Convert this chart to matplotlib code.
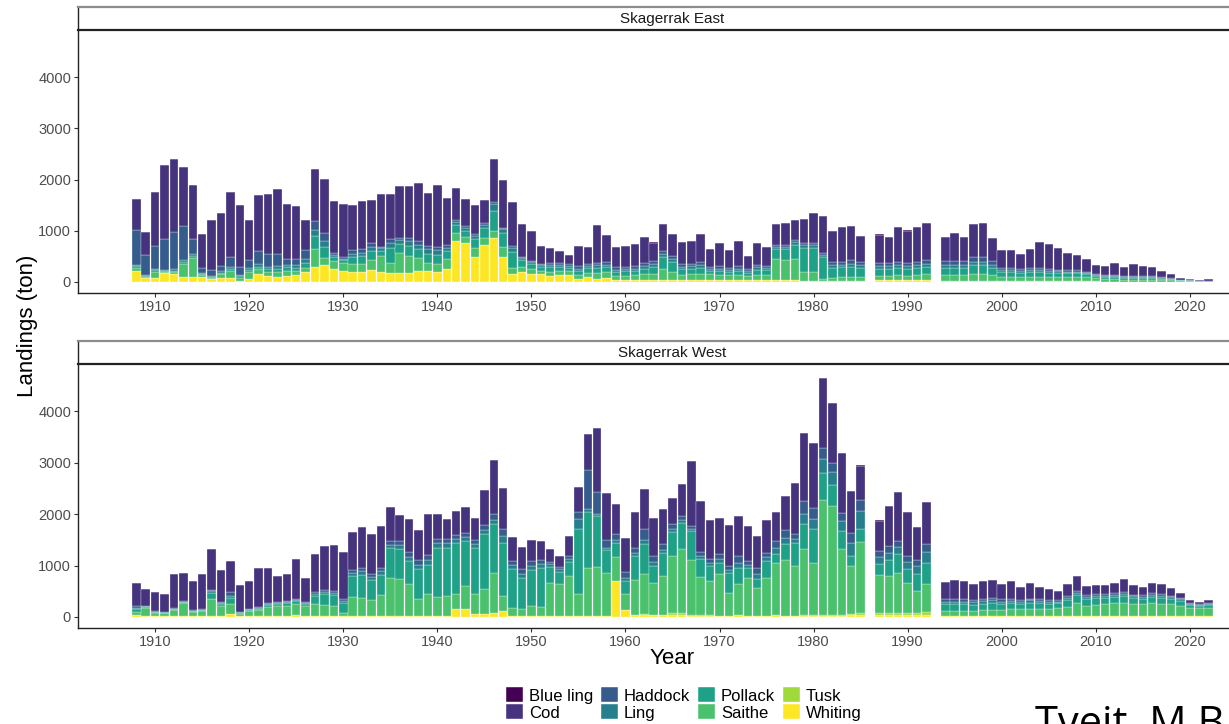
import matplotlib
matplotlib.use("Agg")
import numpy as np
import matplotlib.pyplot as plt
from matplotlib.patches import Patch

plt.rcParams["font.family"] = ["Liberation Sans", "DejaVu Sans"]

# ---- data (tonnes), years 1908-2022 without 1986 and 1993 ----
YEARS = [y for y in range(1908, 2023) if y not in (1986, 1993)]
SPECIES = ["Blue ling", "Cod", "Haddock", "Ling", "Pollack", "Saithe", "Tusk", "Whiting"]
COLORS = ["#440154", "#46337E", "#365C8D", "#277F8E",
          "#1FA187", "#4AC16D", "#9FDA3A", "#FDE725"]

# Skagerrak East
whiting_east = [215, 70, 85, 170, 165, 100, 100, 100, 65, 85,
                70, 20, 65, 150, 110, 100, 125, 130, 190, 300,
                330, 260, 215, 190, 190, 235, 190, 170, 175, 175,
                215, 215, 190, 250, 805, 765, 490, 720, 865, 490,
                165, 190, 165, 160, 120, 130, 140, 60, 90, 60,
                80, 40, 40, 40, 40, 40, 40, 40, 30, 30,
                30, 30, 30, 30, 30, 30, 30, 30, 30, 30,
                30, 20, 20, 20, 20, 20, 20, 20,
                30, 30, 30, 30, 40, 40,
                20, 20, 20, 20, 20, 20, 20, 20, 20, 20,
                10, 10, 10, 10, 10, 10, 10, 5, 5, 5,
                5, 5, 5, 5, 5, 0, 0, 0, 0]
tusk_east = [0, 0, 0, 0, 0, 0, 0, 0, 0, 0,
             0, 0, 0, 0, 0, 0, 0, 0, 0, 0,
             0, 0, 0, 0, 0, 0, 0, 0, 0, 0,
             0, 0, 0, 0, 0, 0, 0, 0, 0, 0,
             0, 0, 0, 0, 0, 0, 0, 0, 0, 0,
             0, 0, 0, 0, 0, 0, 0, 0, 0, 0,
             0, 0, 0, 0, 0, 0, 0, 0, 0, 0,
             0, 0, 0, 0, 0, 0, 0, 0,
             0, 0, 0, 0, 0, 0,
             0, 0, 0, 0, 0, 0, 0, 0, 0, 0,
             0, 0, 0, 0, 0, 0, 0, 0, 0, 0,
             0, 0, 0, 0, 0, 0, 0, 0, 0]
saithe_east = [50, 20, 110, 20, 30, 250, 360, 30, 20, 70,
               145, 60, 130, 100, 80, 90, 80, 80, 90, 345,
               130, 150, 150, 170, 170, 190, 320, 210, 400, 330,
               260, 160, 155, 200, 155, 110, 180, 145, 130, 195,
               115, 100, 90, 60, 80, 80, 70, 80, 90, 120,
               110, 80, 80, 90, 110, 120, 220, 160, 110, 120,
               130, 120, 110, 100, 100, 90, 110, 110, 420, 400,
               420, 170, 180, 40, 60, 80, 80, 80,
               90, 90, 100, 90, 100, 110,
               110, 110, 110, 130, 130, 110, 80, 80, 70, 80,
               80, 80, 80, 90, 90, 80, 60, 50, 50, 40,
               40, 40, 40, 30, 30, 15, 10, 5, 5]
pollack_east = [40, 20, 30, 20, 20, 40, 40, 20, 20, 30,
                40, 30, 40, 50, 60, 70, 80, 70, 100, 250,
                220, 80, 60, 130, 140, 180, 100, 280, 160, 200,
                170, 180, 180, 150, 150, 130, 170, 180, 400, 270,
                300, 130, 100, 80, 90, 80, 70, 80, 90, 100,
                100, 80, 90, 90, 110, 130, 230, 200, 110, 110,
                120, 60, 80, 70, 90, 60, 100, 100, 200, 220,
                280, 480, 470, 420, 200, 190, 200, 180,
                130, 130, 140, 130, 140, 150,
                150, 150, 150, 180, 180, 150, 100, 100, 90, 90,
                100, 90, 80, 70, 70, 60, 50, 40, 40, 40,
                40, 30, 30, 30, 20, 15, 10, 5, 5]
ling_east = [30, 20, 30, 30, 30, 40, 40, 20, 20, 30,
             40, 30, 40, 50, 50, 50, 50, 50, 60, 120,
             120, 40, 30, 60, 60, 80, 50, 100, 80, 90,
             80, 80, 90, 70, 60, 50, 60, 70, 120, 70,
             90, 50, 40, 40, 40, 40, 30, 40, 40, 50,
             50, 40, 40, 40, 50, 60, 60, 50, 50, 50,
             50, 40, 40, 40, 40, 40, 50, 40, 40, 40,
             50, 50, 50, 40, 60, 50, 60, 50,
             60, 60, 60, 60, 60, 60,
             60, 60, 60, 70, 70, 60, 40, 40, 40, 40,
             40, 40, 40, 30, 30, 30, 20, 20, 20, 20,
             20, 20, 20, 20, 10, 10, 10, 5, 5]
haddock_east = [680, 390, 455, 600, 730, 655, 290, 110, 115, 105,
                195, 160, 155, 255, 240, 230, 110, 120, 185, 175,
                160, 40, 30, 70, 80, 80, 20, 70, 50, 70,
                75, 65, 70, 55, 50, 35, 30, 40, 45, 35,
                30, 20, 15, 20, 50, 50, 40, 50, 50, 50,
                60, 50, 50, 50, 60, 60, 60, 60, 50, 50,
                60, 40, 50, 40, 50, 30, 50, 40, 40, 40,
                40, 40, 40, 40, 50, 60, 60, 60,
                60, 60, 70, 60, 60, 70,
                70, 70, 70, 80, 80, 70, 40, 40, 40, 40,
                40, 40, 30, 30, 30, 20, 20, 20, 20, 20,
                20, 20, 20, 10, 10, 5, 5, 5, 10]
cod_east = [615, 450, 1050, 1435, 1425, 1160, 1070, 650, 970, 1030,
            1270, 1210, 780, 1085, 1185, 1280, 1075, 1040, 585, 1010,
            1060, 1020, 1035, 880, 945, 845, 1030, 895, 1015, 1000,
            1130, 1045, 1200, 920, 620, 540, 580, 455, 850, 930,
            855, 635, 580, 350, 277, 231, 170, 399, 323, 726,
            517, 393, 409, 438, 502, 357, 528, 427, 424, 447,
            547, 360, 451, 338, 484, 257, 421, 363, 395, 415,
            396, 469, 580, 721, 599, 673, 666, 504,
            557, 502, 673, 628, 673, 715,
            475, 540, 475, 650, 670, 455, 351, 351, 293, 380,
            504, 481, 423, 342, 303, 242, 178, 184, 229, 174,
            220, 204, 184, 120, 81, 40, 24, 19, 27]
blueling_east = [0, 0, 0, 0, 0, 0, 0, 0, 0, 0,
                 0, 0, 0, 0, 0, 0, 0, 0, 0, 0,
                 0, 0, 0, 0, 0, 0, 0, 0, 0, 0,
                 0, 0, 0, 0, 0, 0, 0, 0, 0, 0,
                 0, 0, 0, 0, 0, 0, 0, 0, 0, 0,
                 0, 0, 0, 0, 0, 20, 0, 0, 0, 0,
                 0, 0, 0, 0, 0, 0, 0, 0, 0, 0,
                 0, 0, 0, 0, 0, 0, 0, 10,
                 10, 0, 0, 10, 0, 0,
                 0, 0, 0, 0, 0, 0, 0, 0, 0, 0,
                 0, 0, 0, 0, 0, 0, 0, 0, 0, 0,
                 0, 0, 0, 0, 0, 0, 0, 0, 0]

# Skagerrak West
whiting_west = [30, 20, 20, 20, 20, 20, 20, 20, 20, 20,
                50, 20, 20, 20, 20, 20, 20, 40, 20, 20,
                20, 20, 10, 20, 20, 20, 20, 20, 20, 20,
                20, 20, 20, 20, 150, 150, 65, 65, 80, 115,
                20, 20, 20, 20, 20, 20, 20, 20, 20, 20,
                20, 705, 129, 30, 40, 30, 30, 30, 30, 20,
                20, 20, 20, 20, 40, 20, 20, 20, 30, 20,
                20, 20, 20, 20, 20, 20, 30, 40,
                30, 30, 30, 30, 30, 30,
                10, 10, 10, 10, 10, 10, 10, 10, 10, 10,
                10, 10, 10, 10, 10, 10, 10, 10, 10, 10,
                10, 10, 10, 10, 10, 10, 10, 10, 10]
tusk_west = [0, 0, 0, 0, 0, 0, 0, 0, 0, 0,
             0, 0, 0, 0, 0, 0, 0, 0, 0, 0,
             0, 0, 0, 0, 0, 0, 0, 0, 0, 0,
             0, 0, 0, 0, 0, 0, 0, 0, 0, 0,
             0, 0, 0, 0, 0, 0, 0, 0, 0, 0,
             0, 0, 0, 10, 10, 10, 10, 40, 40, 20,
             10, 10, 0, 0, 0, 0, 0, 0, 0, 0,
             0, 10, 10, 10, 10, 10, 20, 40,
             40, 40, 40, 40, 40, 70,
             10, 10, 10, 10, 10, 10, 10, 10, 10, 10,
             10, 10, 10, 10, 10, 10, 10, 10, 10, 10,
             10, 10, 10, 10, 10, 10, 10, 10, 10]
saithe_west = [70, 160, 60, 50, 110, 250, 70, 90, 330, 200,
               210, 30, 100, 110, 170, 190, 200, 220, 190, 225,
               210, 190, 60, 375, 355, 305, 405, 745, 725, 625,
               325, 420, 370, 390, 300, 450, 375, 470, 770, 295,
               160, 130, 200, 180, 650, 620, 780, 420, 925, 957,
               828, 466, 324, 678, 791, 626, 756, 1114, 1243, 1066,
               753, 669, 808, 439, 607, 731, 549, 731, 1025, 1086,
               970, 1283, 1025, 2254, 2125, 1296, 940, 1376,
               745, 726, 791, 596, 435, 534,
               96, 100, 100, 100, 110, 120, 120, 130, 130, 140,
               140, 140, 150, 180, 250, 200, 220, 230, 250, 250,
               230, 230, 250, 240, 230, 200, 160, 150, 160]
pollack_west = [50, 20, 10, 10, 20, 20, 20, 20, 120, 30,
                100, 30, 20, 20, 40, 40, 50, 50, 50, 160,
                210, 220, 210, 400, 450, 390, 400, 580, 570, 440,
                580, 580, 960, 940, 990, 875, 900, 1070, 965, 1035,
                745, 615, 700, 750, 300, 230, 260, 1262, 1100, 985,
                448, 259, 246, 466, 582, 324, 453, 472, 518, 563,
                349, 291, 227, 402, 311, 207, 162, 336, 161, 304,
                453, 486, 647, 518, 420, 343, 194, 246,
                207, 304, 355, 259, 323, 421,
                130, 130, 130, 120, 130, 130, 120, 120, 110, 120,
                110, 100, 100, 130, 150, 130, 130, 120, 120, 130,
                110, 100, 120, 110, 100, 90, 60, 50, 60]
ling_west = [30, 10, 10, 10, 10, 10, 10, 10, 30, 20,
             50, 10, 10, 20, 20, 20, 20, 20, 20, 40,
             40, 40, 30, 60, 60, 60, 60, 60, 80, 80,
             80, 80, 80, 80, 80, 80, 80, 80, 80, 120,
             80, 80, 80, 80, 60, 60, 60, 200, 58, 50,
             50, 60, 60, 60, 80, 70, 60, 60, 60, 50,
             60, 60, 80, 60, 100, 60, 100, 80, 120, 130,
             80, 200, 200, 271, 250, 200, 250, 350,
             140, 150, 140, 140, 160, 200,
             50, 50, 50, 50, 50, 50, 40, 40, 40, 40,
             40, 40, 30, 40, 50, 40, 40, 40, 40, 50,
             40, 40, 40, 40, 30, 30, 20, 20, 20]
haddock_west = [40, 10, 10, 10, 10, 10, 10, 10, 30, 20,
                70, 10, 10, 20, 20, 20, 20, 20, 20, 40,
                40, 40, 30, 60, 60, 60, 60, 70, 80, 100,
                100, 100, 80, 80, 80, 80, 80, 100, 110, 150,
                80, 80, 80, 80, 40, 40, 60, 143, 763, 414,
                157, 128, 114, 102, 199, 124, 101, 83, 69, 47,
                76, 69, 94, 69, 126, 69, 127, 82, 139, 142,
                95, 253, 220, 214, 171, 156, 203, 232,
                119, 128, 119, 119, 118, 155,
                47, 50, 50, 40, 40, 40, 40, 40, 30, 30,
                30, 30, 30, 30, 30, 30, 30, 30, 30, 30,
                30, 30, 30, 30, 30, 20, 10, 10, 10]
cod_west = [433, 317, 375, 353, 658, 550, 562, 678, 800, 622,
            600, 515, 532, 768, 688, 512, 525, 769, 457, 738,
            858, 881, 915, 735, 808, 776, 821, 654, 511, 631,
            584, 806, 496, 399, 470, 507, 428, 687, 1042, 795,
            474, 434, 421, 360, 243, 220, 385, 485, 686, 1249,
            899, 582, 660, 686, 789, 744, 686, 517, 634, 1268,
            984, 770, 699, 802, 783, 686, 621, 640, 570, 667,
            996, 1332, 1255, 1358, 1158, 1158, 822, 652,
            588, 783, 964, 867, 647, 829,
            330, 375, 355, 317, 355, 365, 307, 342, 246, 310,
            242, 220, 175, 247, 296, 175, 175, 175, 206, 258,
            185, 162, 200, 194, 153, 99, 60, 41, 53]
blueling_west = [0, 0, 0, 0, 0, 0, 0, 0, 0, 0,
                 0, 0, 0, 0, 0, 0, 0, 0, 0, 0,
                 0, 0, 0, 0, 0, 0, 0, 0, 0, 0,
                 0, 0, 0, 0, 0, 0, 0, 0, 0, 0,
                 0, 0, 0, 0, 0, 0, 0, 0, 0, 0,
                 0, 0, 0, 0, 0, 0, 0, 0, 0, 0,
                 0, 0, 0, 0, 0, 0, 0, 0, 0, 0,
                 0, 0, 0, 0, 0, 0, 0, 20,
                 20, 0, 0, 0, 0, 0,
                 0, 0, 0, 0, 0, 0, 0, 0, 0, 0,
                 0, 0, 0, 0, 0, 0, 0, 0, 0, 0,
                 0, 0, 0, 0, 0, 0, 0, 0, 0]

EAST = [blueling_east, cod_east, haddock_east, ling_east,
        pollack_east, saithe_east, tusk_east, whiting_east]
WEST = [blueling_west, cod_west, haddock_west, ling_west,
        pollack_west, saithe_west, tusk_west, whiting_west]

W, H = 1229, 724
fig = plt.figure(figsize=(W / 100, H / 100), dpi=100, facecolor="white")


def px_axes(x0, y0, x1, y1):
    return fig.add_axes([x0 / W, 1 - y1 / H, (x1 - x0) / W, (y1 - y0) / H])


def panel(ax, series):
    # ggplot stacks the first level on top -> draw from the last species up
    bottom = np.zeros(len(YEARS))
    for name, col, vals in reversed(list(zip(SPECIES, COLORS, series))):
        v = np.asarray(vals, dtype=float)
        ax.bar(YEARS, v, bottom=bottom, width=0.9, color=col,
               edgecolor="white", linewidth=0.2, zorder=3)
        bottom += v
    ax.set_xlim(1901.8, 2028.2)
    ax.set_ylim(-215, 4920)
    ax.set_xticks(range(1910, 2021, 10))
    ax.set_yticks([0, 1000, 2000, 3000, 4000])
    ax.tick_params(length=3, width=0.8, color="#333333", labelcolor="#4D4D4D",
                   labelsize=10.5, pad=2)
    for s in ("top", "right"):
        ax.spines[s].set_visible(False)
    for s in ("left", "bottom"):
        ax.spines[s].set_color("#222222")
        ax.spines[s].set_linewidth(1.0)


def strip(ax, label):
    ax.set_xticks([]); ax.set_yticks([])
    ax.spines["top"].set_color("#8C8C8C"); ax.spines["top"].set_linewidth(1.6)
    ax.spines["bottom"].set_color("#222222"); ax.spines["bottom"].set_linewidth(1.6)
    ax.spines["left"].set_color("#222222"); ax.spines["left"].set_linewidth(1.0)
    ax.spines["right"].set_visible(False)
    ax.text(0.5, 0.5, label, transform=ax.transAxes, ha="center", va="center",
            fontsize=11, color="#1A1A1A")


ax_top = px_axes(78, 30, 1267, 293)
panel(ax_top, EAST)
strip(px_axes(78, 7, 1267, 30), "Skagerrak East")

ax_bot = px_axes(78, 364, 1267, 628)
panel(ax_bot, WEST)
strip(px_axes(78, 341, 1267, 364), "Skagerrak West")

fig.text(27 / W, 1 - 326 / H, "Landings (ton)", rotation=90, ha="center",
         va="center", fontsize=16, color="black")
fig.text(672 / W, 1 - 659 / H, "Year", ha="center", va="center",
         fontsize=16, color="black")

handles = [Patch(facecolor=c, edgecolor="white", linewidth=0.3) for c in COLORS]
fig.legend(handles, SPECIES, ncol=4, loc="center", frameon=False,
           bbox_to_anchor=(684 / W, 1 - 704 / H), fontsize=12,
           handlelength=1.0, handleheight=1.0, handletextpad=0.35,
           columnspacing=0.5, labelspacing=0.05, borderpad=0.2)

# citation line that runs off the bottom-right corner, as in the source image
fig.text(1035 / W, 1 - 736 / H, "Tveit, M.B.", fontsize=30, color="black",
         family=["Open Sans", "DejaVu Sans"], ha="left", va="baseline")

fig.savefig("out.png", dpi=100, facecolor="white")
